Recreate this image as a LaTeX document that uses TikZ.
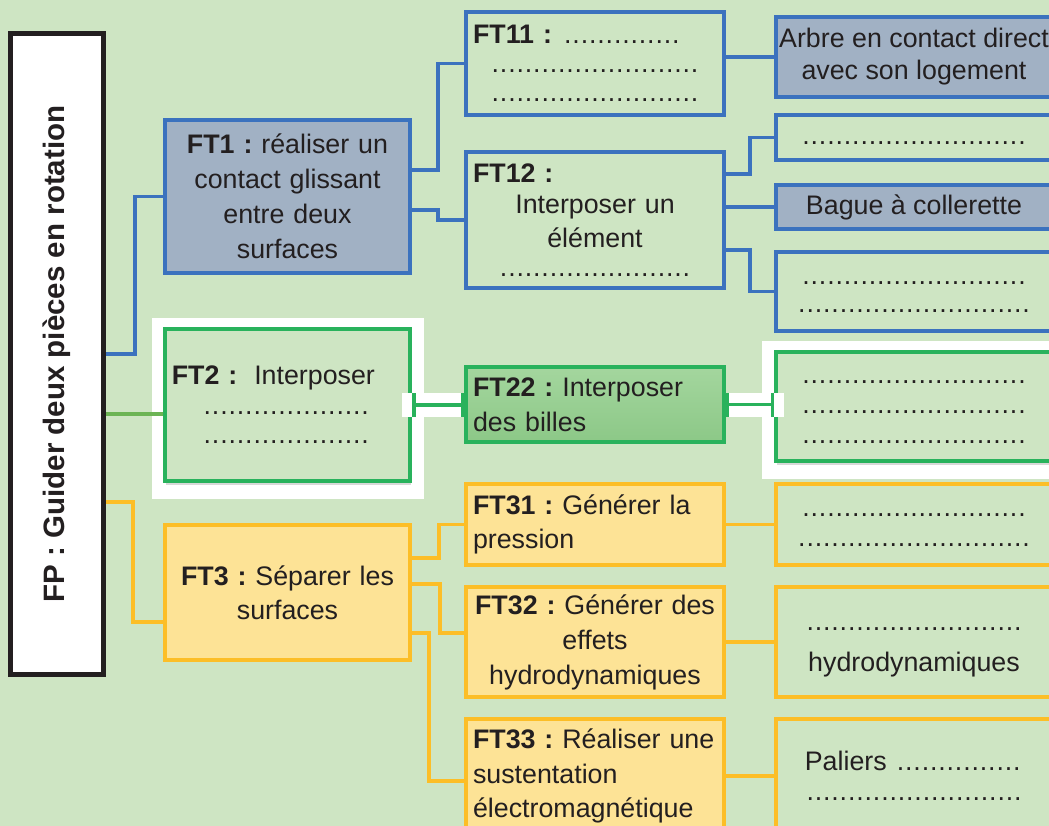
\documentclass[tikz,border=0pt]{standalone}
\usepackage{fontspec}
\setmainfont{Liberation Sans}
\usepackage{tikz}
\usetikzlibrary{arrows.meta,shadows}
\frenchspacing

\definecolor{fond}{RGB}{206,229,195}
\definecolor{bleu}{RGB}{59,114,190}
\definecolor{gris}{RGB}{161,177,196}
\definecolor{vert}{RGB}{41,178,92}
\definecolor{vertclair}{RGB}{108,180,84}
\definecolor{verthaut}{RGB}{164,214,158}
\definecolor{vertbas}{RGB}{140,200,135}
\definecolor{jaune}{RGB}{252,190,39}
\definecolor{jauneclair}{RGB}{253,227,150}
\definecolor{encre}{RGB}{35,31,32}

% ligne de points
\newcommand\pts[1]{\leavevmode\hbox to #1{\cleaders\hbox to 8.3pt{\hss.\hss}\hfill}}

\begin{document}
\begin{tikzpicture}[x=1pt,y=-1pt,font={\fontsize{26.8}{35}\selectfont},text=encre,
  box/.style={draw,line width=3.6pt,inner xsep=7pt,inner ysep=0pt},
  bbox/.style={box,draw=bleu,fill=fond},
  gbox/.style={box,draw=vert,fill=fond},
  jbox/.style={box,draw=jaune,fill=jauneclair},
  ftbox/.style={minimum width=258pt,text width=244pt},
  rbox/.style={minimum width=276pt,align=center},
  ombre/.style={drop shadow={shadow xshift=1pt,shadow yshift=-4pt,opacity=0.3}},
  conn/.style={line width=3.6pt},
  bconn/.style={conn,draw=bleu},
  gconn/.style={conn,draw=vertclair},
  jconn/.style={conn,draw=jaune},
  band/.style={draw=white,line width=24pt},
  gbar/.style={conn,draw=vert,{Bar[width=24pt]}-{Bar[width=24pt]}}]
\path[use as bounding box] (0,0) rectangle (1049,826);
\clip (0,0) rectangle (1049,826);
\fill[fond] (0,0) rectangle (1049,826);

% cadres blancs
\fill[white] (152,318) rectangle (424,499);
\fill[white] (762,341) rectangle (1060,479);

% fonction principale
\node[draw=encre,line width=5pt,fill=white,minimum width=93pt,minimum height=641pt,inner sep=0pt] (fp) at (57,354)
  {\rotatebox{90}{\fontsize{29.5}{35}\selectfont\bfseries FP : Guider deux pi\`eces en rotation}};

% FT1
\node[bbox,fill=gris,minimum width=245.5pt,minimum height=153pt,text width=231.5pt,align=center] (ft1) at (287.5,196.5)
  {\textbf{FT1 :} réaliser un\\ contact glissant\\ entre deux\\ surfaces};
\node[bbox,ftbox,minimum height=103pt,align=center] (ft11) at (595,63.5)
  {\makebox[\linewidth][l]{\textbf{FT11 :} \pts{122pt}}\\[-6pt] \pts{208pt}\\[-6pt] \pts{208pt}};
\node[bbox,ftbox,minimum height=136pt,align=center] (ft12) at (595,220)
  {\makebox[\linewidth][l]{\textbf{FT12 :}}\\[-4pt] Interposer un\\[-1pt] élément\\[-6pt] \pts{195pt}};
\node[bbox,fill=gris,rbox,minimum height=80pt,inner xsep=0pt] (r11) at (914,57)
  {Arbre en contact direct\\[-3pt] avec son logement};
\node[bbox,rbox,minimum height=45pt] (r121) at (914,137.5) {\strut\pts{227pt}};
\node[bbox,fill=gris,rbox,minimum height=44pt] (r122) at (914,207) {Bague à collerette};
\node[bbox,rbox,minimum height=79pt] (r123) at (914,291.5)
  {\strut\pts{227pt}\\[-7pt] \strut\pts{235pt}};

% FT2
\node[gbox,ombre,minimum width=245.5pt,minimum height=152.5pt,text width=231.5pt,align=left] (ft2) at (287.5,405)
  {\textbf{FT2 :}\hspace{17pt}Interposer\\[-5.5pt] \hspace*{30pt}\pts{169pt}\\[-5.5pt] \hspace*{30pt}\pts{169pt}};
\node[box,draw=vert,top color=verthaut,bottom color=vertbas,ftbox,minimum height=75.5pt,align=left] (ft22) at (595,404.5)
  {\textbf{FT22 :} Interposer\\ des billes};
\node[gbox,ombre,rbox,minimum height=109.5pt] (rg) at (914,406.5)
  {\strut\pts{226pt}\\[-5pt] \strut\pts{226pt}\\[-5pt] \strut\pts{226pt}};

% FT3
\node[jbox,minimum width=245.5pt,minimum height=135pt,text width=231.5pt,align=center] (ft3) at (287.5,592.5)
  {\textbf{FT3 :} Séparer les\\[-1pt] surfaces};
\node[jbox,ftbox,minimum height=81.5pt,align=left] (ft31) at (595,524.5)
  {\textbf{FT31 :} Générer la\\[-1pt] pression};
\node[jbox,ftbox,minimum height=110pt,align=center] (ft32) at (595,642)
  {\textbf{FT32 :} Générer des\\ effets\\ hydrodynamiques};
\node[jbox,ftbox,minimum height=114pt,align=left] (ft33) at (595,776)
  {\textbf{FT33 :} Réaliser une\\[-0.5pt] sustentation\\[-0.5pt] électromagnétique};
\node[box,draw=jaune,fill=fond,rbox,minimum height=81.5pt] (r31) at (914,524.5)
  {\strut\pts{226pt}\\[-5pt] \strut\pts{234pt}};
\node[box,draw=jaune,fill=fond,rbox,minimum height=110pt] (r32) at (914,642)
  {\strut\pts{221pt}\\[6pt] hydrodynamiques};
\node[box,draw=jaune,fill=fond,rbox,minimum height=114pt] (r33) at (914,776)
  {Paliers \pts{129pt}\\[-5pt] \pts{221pt}};

% liaisons
\draw[bconn] (fp.east) -- ++(29,0) |- (ft1.west);
\coordinate (g2) at ([yshift=-9pt]ft2.west);
\draw[gconn] (g2 -| fp.east) -- (g2);
\coordinate (j3) at ([yshift=-29.5pt]ft3.west);
\draw[jconn] ([yshift=-148pt]fp.east) -- ++(27,0) |- (j3);

\draw[bconn] ([yshift=26.5pt]ft1.east) -- ++(26,0) |- (ft11.west);
\draw[bconn] ([yshift=-13.5pt]ft1.east) -- ++(26,0) |- (ft12.west);
\draw[bconn] (ft11.east |- r11.west) -- (r11.west);
\draw[bconn] ([yshift=46pt]ft12.east) -- ++(24,0) |- (r121.west);
\draw[bconn] (ft12.east |- r122.west) -- (r122.west);
\draw[bconn] ([yshift=-30pt]ft12.east) -- ++(24,0) |- (r123.west);

\draw[band] ([xshift=-10pt]ft2.east) -- (ft2.east -| ft22.west);
\draw[band] (ft22.east) -- ([xshift=10pt]ft22.east -| rg.west);
\draw[gbar] (ft2.east) -- (ft2.east -| ft22.west);
\draw[gbar] (ft22.east) -- (ft22.east -| rg.west);

\coordinate (j31) at ([yshift=34.5pt]ft3.east);
\coordinate (j32) at ([yshift=8.5pt]ft3.east);
\coordinate (j33) at ([yshift=-40.5pt]ft3.east);
\draw[jconn] (j31) -- ++(27,0) |- (ft31.west);
\draw[jconn] (j32) -- ++(28,0) |- ([yshift=9pt]ft32.west);
\draw[jconn] (j33) -- ++(17,0) |- ([yshift=-5pt]ft33.west);
\draw[jconn] (ft31.east |- r31.west) -- (r31.west);
\draw[jconn] (ft32.east) -- (r32.west);
\draw[jconn] (ft33.east) -- (r33.west);
\end{tikzpicture}
\end{document}
